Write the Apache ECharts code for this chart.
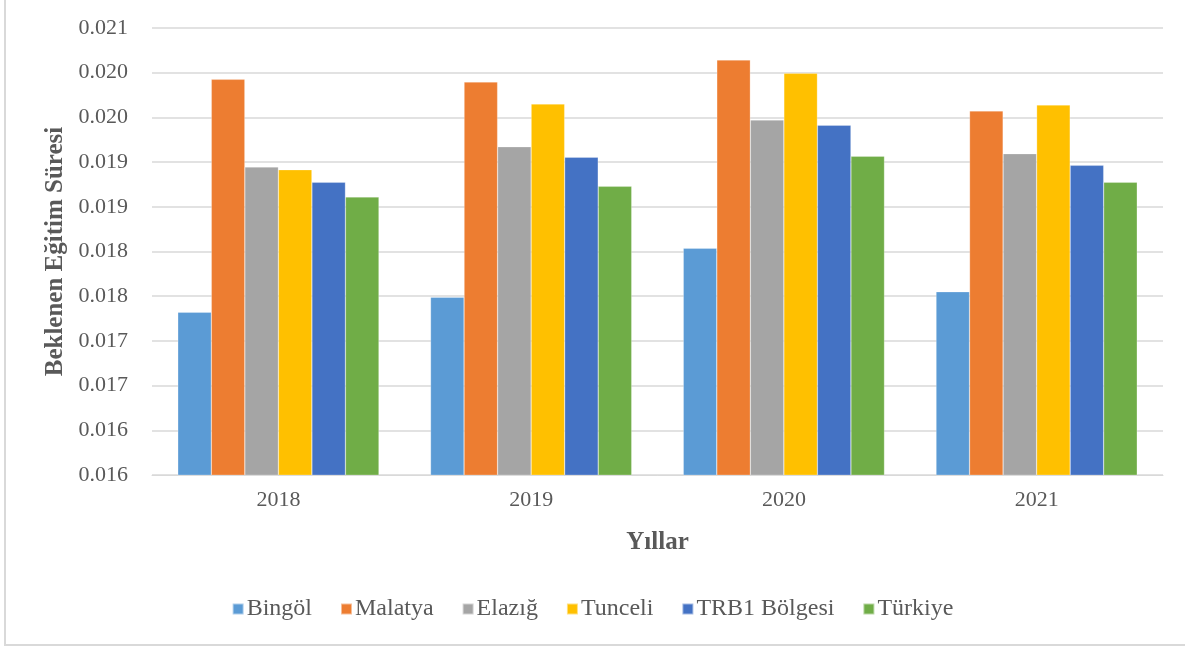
<!DOCTYPE html>
<html><head><meta charset="utf-8">
<script src="https://cdn.jsdelivr.net/npm/echarts@6/dist/echarts.min.js"></script>
<style>html,body{margin:0;padding:0;background:#fff}#c{width:1185px;height:648px}</style>
</head><body><div id="c"></div>
<script>
const categories = ['2018', '2019', '2020', '2021'];
const seriesNames = ['Bingöl', 'Malatya', 'Elazığ', 'Tunceli', 'TRB1 Bölgesi', 'Türkiye'];
const bingol = [0.01732, 0.017488, 0.018036, 0.01755];
const malatya = [0.019926, 0.019896, 0.020142, 0.019572];
const elazig = [0.018945, 0.019172, 0.019471, 0.019094];
const tunceli = [0.018915, 0.01965, 0.019993, 0.019639];
const trb1 = [0.018774, 0.019054, 0.019412, 0.018964];
const turkiye = [0.01861, 0.018729, 0.019065, 0.018774];
const colors = ['#5B9BD5', '#ED7D31', '#A5A5A5', '#FFC000', '#4472C4', '#70AD47'];
const seriesData = [bingol, malatya, elazig, tunceli, trb1, turkiye];

const font = '"Liberation Serif", "Times New Roman", serif';
const chart = echarts.init(document.getElementById('c'));
chart.setOption({
  animation: false,
  textStyle: { fontFamily: font },
  color: colors,
  graphic: [{
    type: 'rect', shape: { x: 5, y: -5, width: 1200, height: 650 },
    style: { fill: 'none', stroke: '#d9d9d9', lineWidth: 2 }, silent: true, z: -10
  }],
  grid: { left: 152, right: 22, top: 28, bottom: 173 },
  legend: {
    bottom: 22, left: 'center', itemWidth: 11, itemHeight: 11, itemGap: 28,
    icon: 'rect',
    textStyle: { fontFamily: font, fontSize: 24, color: '#595959', padding: [0, 0, 0, -2] },
    data: seriesNames
  },
  xAxis: {
    type: 'category', data: categories,
    name: 'Yıllar', nameLocation: 'middle', nameGap: 55,
    nameTextStyle: { fontFamily: font, fontSize: 25, fontWeight: 'bold', color: '#595959' },
    axisLine: { lineStyle: { color: '#d9d9d9', width: 1 } },
    axisTick: { show: false },
    axisLabel: { fontFamily: font, fontSize: 22, color: '#595959', margin: 14 }
  },
  yAxis: {
    type: 'value', min: 0.0155, max: 0.0205, interval: 0.0005,
    name: 'Beklenen Eğitim Süresi', nameLocation: 'middle', nameGap: 83, nameRotate: 90,
    nameTextStyle: { fontFamily: font, fontSize: 25, fontWeight: 'bold', color: '#595959' },
    axisLine: { show: false }, axisTick: { show: false },
    splitLine: { lineStyle: { color: '#d9d9d9', width: 1.5 } },
    axisLabel: { fontFamily: font, fontSize: 22, color: '#595959', margin: 24,
      formatter: v => (Math.round(v * 1000 + 1e-9) / 1000).toFixed(3) }
  },
  series: seriesNames.map((n, i) => ({
    name: n, type: 'bar', data: seriesData[i],
    barGap: '0%', barCategoryGap: '20.4%',
    itemStyle: { color: colors[i], borderColor: 'rgba(255,255,255,0.5)', borderWidth: 0.5 }
  }))
});
</script></body></html>
